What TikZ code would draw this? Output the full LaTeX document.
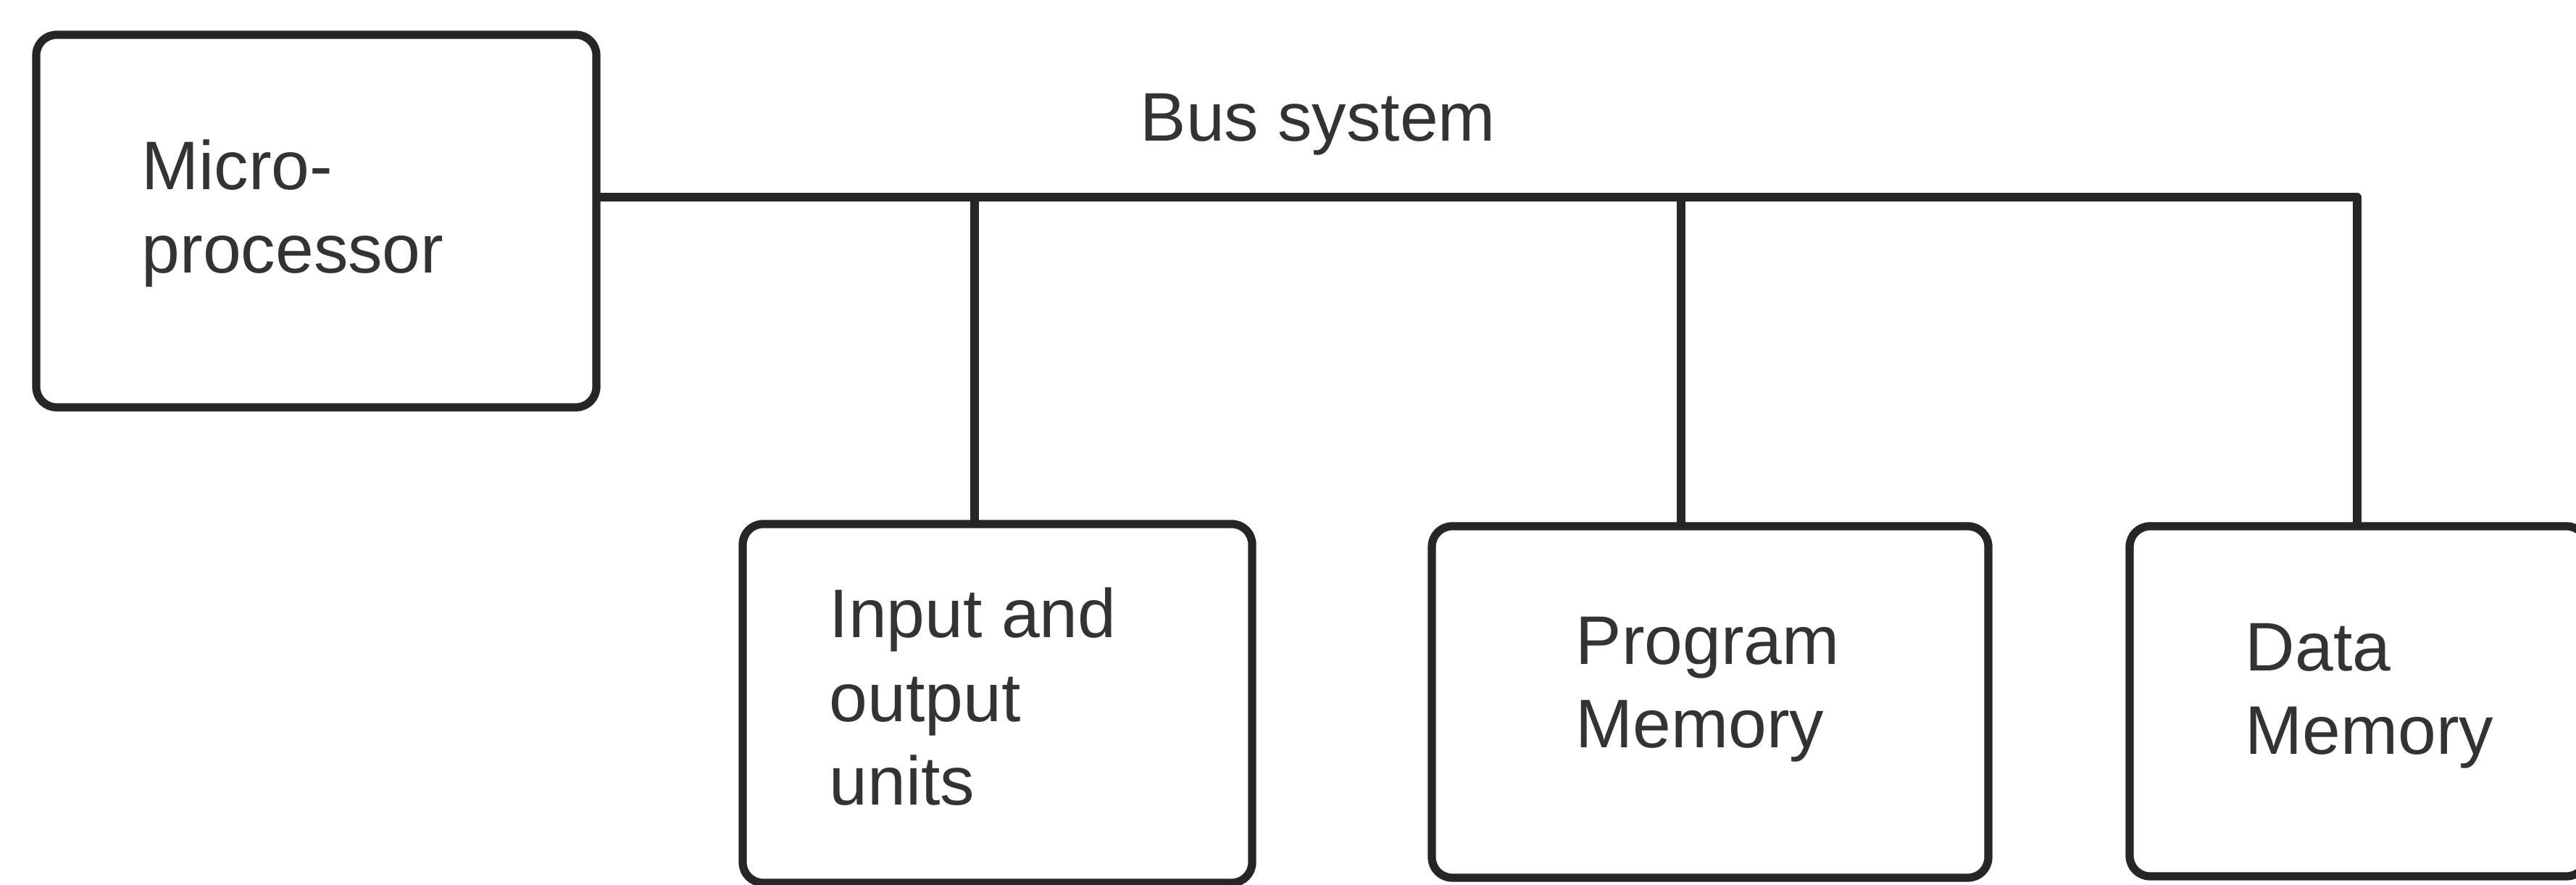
\documentclass[tikz,border=0pt]{standalone}
\usepackage{fontspec}
\setmainfont{Liberation Sans}
\definecolor{linec}{HTML}{262626}
\definecolor{textc}{HTML}{333333}
\begin{document}
\begin{tikzpicture}[
  unitbox/.style={draw=linec, line width=3.2pt, rounded corners=8pt, anchor=north west, inner sep=0pt, outer sep=0pt, fill=none},
  lbl/.style={anchor=base west, align=left, inner sep=0pt, text=textc, font=\fontsize{27}{33}\selectfont},
  busline/.style={draw=linec, line width=3.2pt}
]
\useasboundingbox (0,0) rectangle (35.55,12.21);
\clip (0,0) rectangle (35.55,12.21);
\fill[white] (0,0) rectangle (35.55,12.21);

\node[unitbox, minimum width=7.73cm, minimum height=5.14cm] (mp) at (0.50,11.73) {};
\node[unitbox, minimum width=7.03cm, minimum height=4.95cm] (io) at (10.25,4.98) {};
\node[unitbox, minimum width=7.68cm, minimum height=4.85cm] (pm) at (19.76,4.95) {};
\node[unitbox, minimum width=6.31cm, minimum height=4.83cm] (dm) at (29.39,4.95) {};

% anchor "base west" of a multi-line node is the baseline of its last line
\node[lbl] (tmp) at (1.95,8.44) {Micro-\\processor};
\node[lbl] (tio) at (11.44,1.10) {Input and\\output\\units};
\node[lbl] (tpm) at (21.74,1.89) {Program\\Memory};
\node[lbl] (tdm) at (30.98,1.80) {Data\\Memory};
\node[lbl] (tbus) at (15.73,10.26) {Bus system};

\coordinate (b1) at (13.45,9.49);
\coordinate (b2) at (23.20,9.49);
\coordinate (b3) at (32.53,9.49);

\draw[busline, line join=round] (mp.east |- b3) -- (b3) -- (b3 |- dm.north);
\draw[busline] (b1) -- (b1 |- io.north);
\draw[busline] (b2) -- (b2 |- pm.north);
\end{tikzpicture}
\end{document}
